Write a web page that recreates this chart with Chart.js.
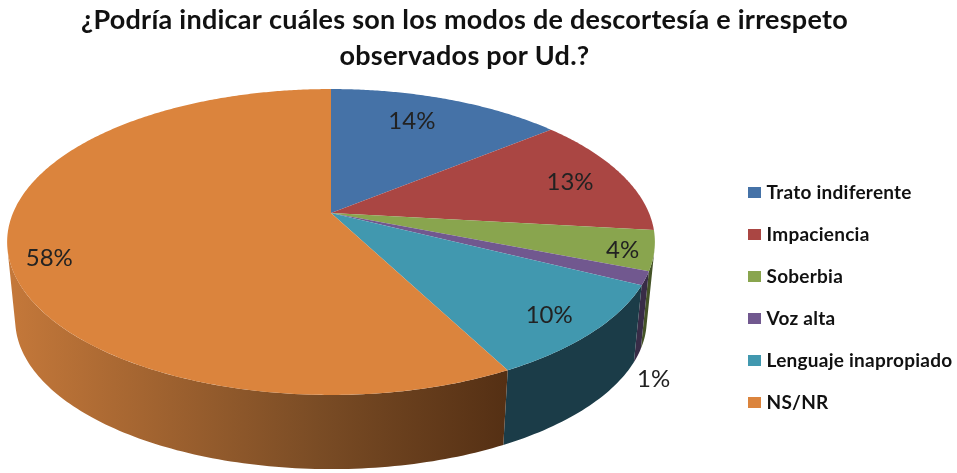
<!DOCTYPE html>
<html>
<head>
<meta charset="utf-8">
<style>
  html, body { margin: 0; padding: 0; background: #fff; }
  canvas { display: block; filter: blur(0.4px); }
</style>
<script src="https://cdn.jsdelivr.net/npm/chart.js@4"></script>
</head>
<body>
<canvas id="canvas" width="957" height="473"></canvas>
<script>
const titleLines = ['¿Podría indicar cuáles son los modos de descortesía e irrespeto', 'observados por Ud.?'];
const categories = ['Trato indiferente', 'Impaciencia', 'Soberbia', 'Voz alta', 'Lenguaje inapropiado', 'NS/NR'];
// read from the slice edges, printed rounded
const percents = [14.1, 12.7, 4.2, 1.4, 9.95, 57.65];
const topColors = ['#4572A7', '#AA4643', '#89A54E', '#71588F', '#4198AF', '#DB843D'];
const sideColors = ['#223955', '#552322', '#445327', '#382C47', '#1B3C48', null];

// perspective of the tilted disc, fitted by eye on the reference
const disc = { cx: 331, cy: 213, rx: 318, ryA: 107.1, k: -0.1895 };
const base = { scale: 0.975, midY: 242, drop: 78 };
const labelRadius = [0.8, 0.8, 0.9, 1, 0.85, 0.9];
const labelNudge = [[-15, 2], [5, 1], [2, 4], [8, 101], [1, 3], [8, 12]];

function project(theta, r) {
  const u = r * Math.sin(theta);
  const v = -r * Math.cos(theta);
  const w = 1 + disc.k * v;
  return { x: disc.cx + disc.rx * u / w, y: (disc.cy + disc.ryA * v) / w };
}

function projectBase(theta) {
  const p = project(theta, 1);
  return {
    x: disc.cx + (p.x - disc.cx) * base.scale,
    y: base.midY + base.drop + (p.y - base.midY) * base.scale
  };
}

const toTheta = (angle) => angle + Math.PI / 2;
const rad = (deg) => deg * Math.PI / 180;

const pie3d = {
  id: 'pie3d',
  afterLayout(chart) {
    chart.titleBlock.left -= 14;
    chart.titleBlock.right -= 14;
    const shiftX = 752 - 23 - chart.legend.left;
    chart.legend.left += shiftX;
    chart.legend.right += shiftX;
    chart.legend.top += 61;
    chart.legend.bottom += 61;
  },
  beforeDraw(chart) {
    chart.ctx.letterSpacing = '0.25px';
  },
  beforeDatasetDraw(chart, args) {
    const ctx = chart.ctx;
    const arcs = args.meta.data;

    // side walls first, only the quads facing us
    arcs.forEach((arc, i) => {
      const from = Math.max(toTheta(arc.startAngle), rad(70));
      const to = Math.min(toTheta(arc.endAngle), rad(290));
      if (to <= from) return;
      ctx.beginPath();
      const steps = Math.ceil((to - from) / rad(1));
      for (let s = 0; s < steps; s++) {
        const a = from + (to - from) * s / steps;
        const b = from + (to - from) * (s + 1) / steps;
        const t1 = project(a, 1), t2 = project(b, 1), b1 = projectBase(a), b2 = projectBase(b);
        const facing = (t2.x - t1.x) * (b1.y - t1.y) - (t2.y - t1.y) * (b1.x - t1.x);
        if (facing > 0) continue;
        ctx.moveTo(t1.x, t1.y);
        ctx.lineTo(t2.x, t2.y);
        ctx.lineTo(b2.x, b2.y);
        ctx.lineTo(b1.x, b1.y);
        ctx.closePath();
      }
      if (sideColors[i]) {
        ctx.fillStyle = sideColors[i];
      } else {
        const grad = ctx.createLinearGradient(10, 0, 505, 0);
        grad.addColorStop(0, '#C4783A');
        grad.addColorStop(0.62, '#7A4C25');
        grad.addColorStop(1, '#553014');
        ctx.fillStyle = grad;
      }
      ctx.fill();
    });

    // top face
    arcs.forEach((arc, i) => {
      const from = toTheta(arc.startAngle);
      const to = toTheta(arc.endAngle);
      const steps = Math.ceil((to - from) / rad(0.5));
      const apex = project(0, 0);
      ctx.beginPath();
      ctx.moveTo(apex.x, apex.y);
      for (let s = 0; s <= steps; s++) {
        const p = project(from + (to - from) * s / steps, 1);
        ctx.lineTo(p.x, p.y);
      }
      ctx.closePath();
      ctx.fillStyle = topColors[i];
      ctx.fill();
    });
    return false;
  },
  afterDatasetsDraw(chart) {
    const ctx = chart.ctx;
    ctx.save();
    ctx.letterSpacing = '0px';
    ctx.font = '24px Lato';
    ctx.fillStyle = '#222';
    ctx.textAlign = 'center';
    ctx.textBaseline = 'middle';
    chart.getDatasetMeta(0).data.forEach((arc, i) => {
      const mid = toTheta((arc.startAngle + arc.endAngle) / 2);
      const p = project(mid, labelRadius[i]);
      ctx.fillText(Math.round(percents[i]) + '%', p.x + labelNudge[i][0], p.y + labelNudge[i][1]);
    });
    ctx.restore();
  }
};

new Chart(document.getElementById('canvas'), {
  type: 'pie',
  data: {
    labels: categories,
    datasets: [{ data: percents, backgroundColor: topColors, borderWidth: 0 }]
  },
  options: {
    responsive: false,
    animation: false,
    plugins: {
      tooltip: { enabled: false },
      title: {
        display: true,
        text: titleLines,
        color: '#111',
        font: { family: 'Lato', size: 27, weight: 'bold', lineHeight: 1.333 },
        padding: { top: 2, bottom: 10 }
      },
      legend: {
        position: 'right',
        labels: {
          // small box with a thick border, keeps the text close to the swatch
          boxWidth: 5,
          boxHeight: 3,
          padding: 23,
          color: '#111',
          font: { family: 'Lato', size: 19, weight: 'bold' },
          generateLabels(chart) {
            const items = Chart.overrides.pie.plugins.legend.labels.generateLabels(chart);
            items.forEach((item) => {
              item.strokeStyle = item.fillStyle;
              item.lineWidth = 8;
            });
            return items;
          }
        }
      }
    }
  },
  plugins: [pie3d]
});
</script>
</body>
</html>
